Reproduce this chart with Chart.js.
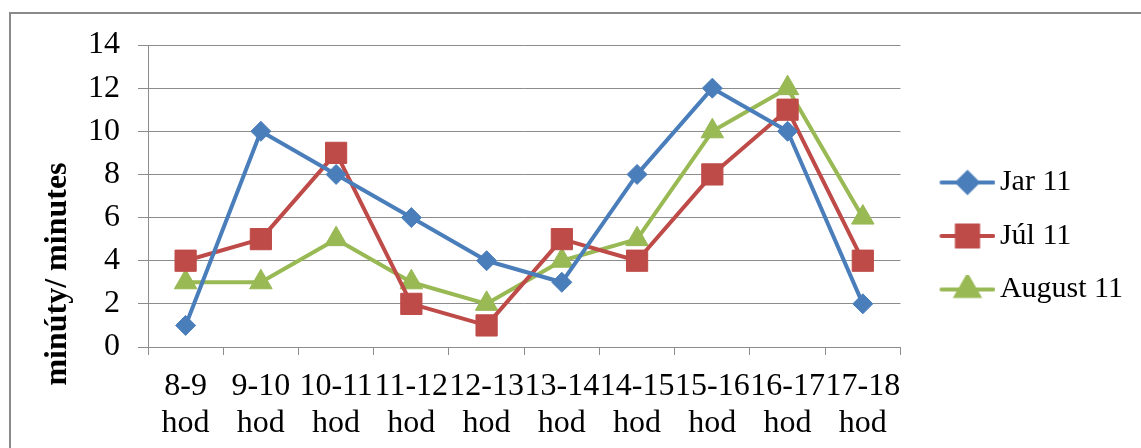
<!DOCTYPE html>
<html>
<head>
<meta charset="utf-8">
<script src="https://cdn.jsdelivr.net/npm/chart.js@4.4.0/dist/chart.umd.min.js"></script>
<style>
  html, body { margin: 0; padding: 0; background: #fff; }
  #wrap { position: relative; width: 1141px; height: 448px; }
</style>
</head>
<body>
<div id="wrap"><canvas id="chart" width="1141" height="448"></canvas></div>
<script>
// chart data
const categories = [
  ['8-9', 'hod'], ['9-10', 'hod'], ['10-11', 'hod'], ['11-12', 'hod'], ['12-13', 'hod'],
  ['13-14', 'hod'], ['14-15', 'hod'], ['15-16', 'hod'], ['16-17', 'hod'], ['17-18', 'hod']
];
const seriesNames = ['Jar 11', 'Júl 11', 'August 11'];
const jar11 = [1, 10, 8, 6, 4, 3, 8, 12, 10, 2];
const jul11 = [4, 5, 9, 2, 1, 5, 4, 8, 11, 4];
const aug11 = [3, 3, 5, 3, 2, 4, 5, 10, 12, 6];
const yMin = 0, yMax = 14, yStep = 2;
const yTitle = 'minúty/ minutes';

const BLUE = '#4a7ebb', RED = '#be4b48', GREEN = '#98b954';
const GRID = '#8c8c8c';
const FONT = '"Liberation Serif", "Times New Roman", serif';

// little line + marker picture for the legend, marker drawn by Chart.js itself
function legendIcon(color, style, radius) {
  const c = document.createElement('canvas');
  c.width = 82; c.height = 30;
  const g = c.getContext('2d');
  g.strokeStyle = color;
  g.fillStyle = color;
  g.lineWidth = 4;
  g.lineCap = 'round';
  g.beginPath();
  g.moveTo(28, 15);
  g.lineTo(80, 15);
  g.stroke();
  Chart.helpers.drawPoint(g, {pointStyle: style, radius: radius, borderWidth: 1}, 54, 15);
  return c;
}

const markers = [
  {style: 'rectRot', radius: 10, color: BLUE},
  {style: 'rect', radius: 15, color: RED},
  {style: 'triangle', radius: 13, color: GREEN}
];
const values = [jar11, jul11, aug11];

const frame = {
  id: 'frame',
  beforeDraw(chart) {
    const g = chart.ctx;
    g.save();
    g.fillStyle = '#fff';
    g.fillRect(0, 0, chart.width, chart.height);
    g.strokeStyle = '#8a8a8a';
    g.lineWidth = 2;
    g.beginPath();
    g.moveTo(10, chart.height);
    g.lineTo(10, 13);
    g.lineTo(chart.width, 13);
    g.stroke();
    g.restore();
  },
  afterDraw(chart) {
    const g = chart.ctx;
    g.save();
    g.translate(58, 274);
    g.rotate(-Math.PI / 2);
    g.font = 'bold 32px ' + FONT;
    g.fillStyle = '#000';
    g.textAlign = 'center';
    g.textBaseline = 'middle';
    g.fillText(yTitle, 0, 0);
    g.restore();
  }
};

new Chart(document.getElementById('chart').getContext('2d'), {
  type: 'line',
  data: {
    labels: categories,
    datasets: seriesNames.map((name, i) => ({
      label: name,
      data: values[i],
      borderColor: markers[i].color,
      backgroundColor: markers[i].color,
      borderWidth: 4,
      borderJoinStyle: 'round',
      borderCapStyle: 'round',
      pointStyle: markers[i].style,
      pointRadius: markers[i].radius,
      pointHoverRadius: markers[i].radius,
      pointBorderWidth: 1,
      tension: 0
    }))
  },
  options: {
    responsive: false,
    animation: false,
    layout: {padding: {left: 10, top: 24, right: 8, bottom: 0}},
    plugins: {
      tooltip: {enabled: false},
      legend: {
        position: 'right',
        labels: {
          usePointStyle: true,
          pointStyleWidth: 61,
          padding: 23.5,
          color: '#000',
          font: {family: FONT, size: 30},
          generateLabels(chart) {
            return chart.data.datasets.map((ds, i) => ({
              text: ds.label,
              pointStyle: legendIcon(markers[i].color, markers[i].style, markers[i].radius),
              fillStyle: markers[i].color,
              strokeStyle: markers[i].color,
              lineWidth: 0,
              datasetIndex: i
            }));
          }
        }
      }
    },
    scales: {
      x: {
        offset: true,
        grid: {offset: true, drawOnChartArea: false, drawTicks: true, tickLength: 8, color: GRID},
        border: {display: true, color: GRID},
        ticks: {color: '#000', font: {family: FONT, size: 32, lineHeight: 1.15}, padding: 13, maxRotation: 0, autoSkip: false},
        afterFit(scale) { scale.height = 101; }
      },
      y: {
        min: yMin,
        max: yMax,
        grid: {color: GRID, tickLength: 10},
        border: {display: true, color: GRID},
        ticks: {stepSize: yStep, color: '#000', font: {family: FONT, size: 32}, padding: 18},
        afterFit(scale) { scale.width = 138; scale.paddingTop = 45; }
      }
    }
  },
  plugins: [frame]
});
</script>
</body>
</html>
